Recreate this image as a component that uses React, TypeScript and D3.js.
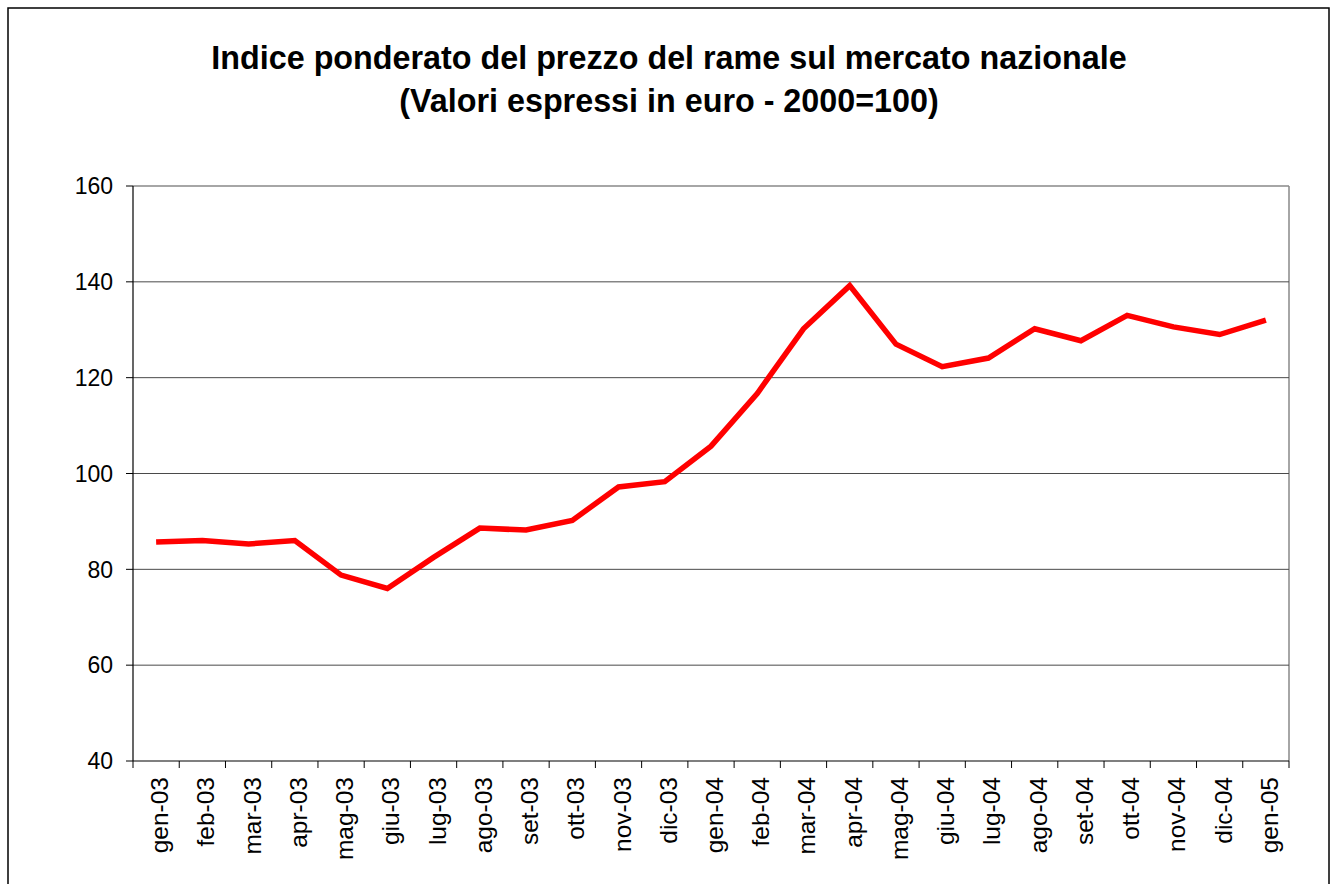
import React from "react";
import * as d3 from "d3";

const months = [
  "gen-03", "feb-03", "mar-03", "apr-03", "mag-03", "giu-03", "lug-03",
  "ago-03", "set-03", "ott-03", "nov-03", "dic-03", "gen-04", "feb-04",
  "mar-04", "apr-04", "mag-04", "giu-04", "lug-04", "ago-04", "set-04",
  "ott-04", "nov-04", "dic-04", "gen-05",
];

const indexValues = [
  85.7, 86.0, 85.3, 86.0, 78.8, 76.0, 82.5, 88.6, 88.2, 90.2, 97.2, 98.3,
  105.7, 116.7, 130.2, 139.2, 127.0, 122.3, 124.1, 130.2, 127.7, 133.0,
  130.6, 129.0, 132.0,
];

const yTicks = [40, 60, 80, 100, 120, 140, 160];

const titleLines = [
  "Indice ponderato del prezzo del rame sul mercato nazionale",
  "(Valori espressi in euro - 2000=100)",
];

const W = 1332;
const H = 884;
const font = "'Liberation Sans', Arial, Helvetica, sans-serif";

export default function App() {
  // plot area
  const left = 133;
  const right = 1289;
  const top = 186;
  const bottom = 761;

  const x = d3.scaleBand().domain(months).range([left, right]).padding(0);
  const y = d3.scaleLinear().domain([40, 160]).range([bottom, top]);

  const line = d3
    .line<number>()
    .x((d, i) => (x(months[i]) as number) + x.bandwidth() / 2)
    .y((d) => y(d));

  // tick positions at category boundaries
  const xTicks = months.map((m) => x(m) as number).concat([right]);

  return (
    <svg
      width={W}
      height={H}
      style={{ position: "absolute", left: 0, top: 0, background: "#fff" }}
      fontFamily={font}
    >
      {/* chart frame */}
      <rect x={8} y={8} width={1321} height={H + 20} fill="#fff" stroke="#000" strokeWidth={1.5} />

      {/* title */}
      {titleLines.map((t, i) => (
        <text
          key={i}
          x={669}
          y={69 + i * 43}
          textAnchor="middle"
          fontSize={32.3}
          fontWeight="bold"
          fill="#000"
        >
          {t}
        </text>
      ))}

      {/* plot border (top & right) */}
      <line x1={left} x2={right} y1={top} y2={top} stroke="#888" strokeWidth={1.5} />
      <line x1={right} x2={right} y1={top} y2={bottom} stroke="#888" strokeWidth={1.5} />

      {/* grid lines */}
      {yTicks.slice(1, -1).map((t) => (
        <line key={t} x1={left} x2={right} y1={y(t)} y2={y(t)} stroke="#4a4a4a" strokeWidth={1} />
      ))}

      {/* y axis */}
      <line x1={left} x2={left} y1={top} y2={bottom} stroke="#000" strokeWidth={1.2} />
      {yTicks.map((t) => (
        <g key={t}>
          <line x1={left - 7} x2={left} y1={y(t)} y2={y(t)} stroke="#000" strokeWidth={1} />
          <text
            x={left - 20}
            y={y(t)}
            dy="0.36em"
            textAnchor="end"
            fontSize={23}
            fill="#000"
          >
            {t}
          </text>
        </g>
      ))}

      {/* x axis */}
      <line x1={left} x2={right} y1={bottom} y2={bottom} stroke="#000" strokeWidth={1.2} />
      {xTicks.map((tx, i) => (
        <line key={i} x1={tx} x2={tx} y1={bottom} y2={bottom + 7} stroke="#000" strokeWidth={1} />
      ))}
      {months.map((m) => {
        const cx = (x(m) as number) + x.bandwidth() / 2;
        return (
          <text
            key={m}
            transform={`translate(${cx + 12},${bottom + 16}) rotate(-90)`}
            textAnchor="end"
            fontSize={24.5}
            fill="#000"
          >
            {m}
          </text>
        );
      })}

      {/* series */}
      <path
        d={line(indexValues) ?? ""}
        fill="none"
        stroke="#ff0000"
        strokeWidth={5.5}
        strokeLinejoin="miter"
      />
    </svg>
  );
}
